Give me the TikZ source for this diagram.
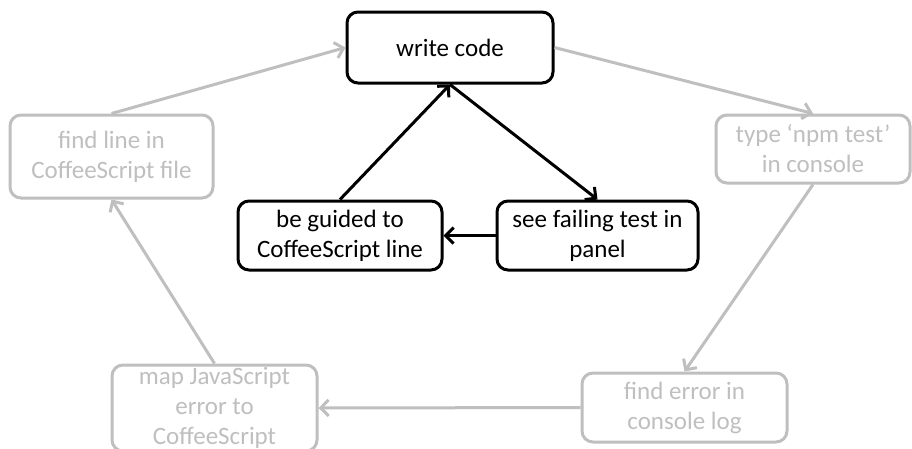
\documentclass[tikz,border=0pt]{standalone}
\usepackage{fontspec}
\setmainfont{Carlito}
\usetikzlibrary{arrows.meta}
\definecolor{lightg}{RGB}{191,191,191}
\begin{document}
\begin{tikzpicture}[x=1pt,y=-1pt,
  box/.style={draw, rounded corners=11pt, line width=3pt, align=center,
    inner sep=0pt, font=\fontsize{25}{30}\selectfont, fill=white},
  activebox/.style={box, draw=black, text=black},
  fadedbox/.style={box, draw=lightg, text=lightg},
  arr/.style={line width=3pt, -{Straight Barb[length=8pt,width=16pt,line width=3pt]}},
  activearr/.style={arr, draw=black},
  fadedarr/.style={arr, draw=lightg}]
\useasboundingbox (0,0) rectangle (912,448);
\node[activebox, minimum width=206pt, minimum height=71pt] (wc) at (450,47.5) {write code};
\node[fadedbox, minimum width=203pt, minimum height=83pt] (fl) at (111.5,156.5) {find line in\\CoffeeScript file};
\node[fadedbox, minimum width=194pt, minimum height=68pt] (tn) at (813,149) {type ‘npm test’\\in console};
\node[activebox, minimum width=204pt, minimum height=69pt] (bg) at (340,235.5) {be guided to\\CoffeeScript line};
\node[activebox, minimum width=201pt, minimum height=69pt] (sf) at (597.5,235.5) {see failing test in\\panel};
\node[fadedbox, minimum width=205pt, minimum height=86pt] (mj) at (214.5,408) {map JavaScript\\error to\\CoffeeScript};
\node[fadedbox, minimum width=205pt, minimum height=69pt] (fe) at (684.5,407.5) {find error in\\console log};
\draw[fadedarr] (fl.north) -- (wc.west);
\draw[fadedarr] (wc.east) -- (tn.north);
\draw[fadedarr] (tn.south) -- (fe.north);
\draw[fadedarr] (fe.west) -- (mj.east);
\draw[fadedarr] (mj.north) -- (fl.south);
\draw[activearr] (wc.south) -- (sf.north);
\draw[activearr] (bg.north) -- (wc.south);
\draw[activearr] (sf.west) -- (bg.east);
\end{tikzpicture}
\end{document}
